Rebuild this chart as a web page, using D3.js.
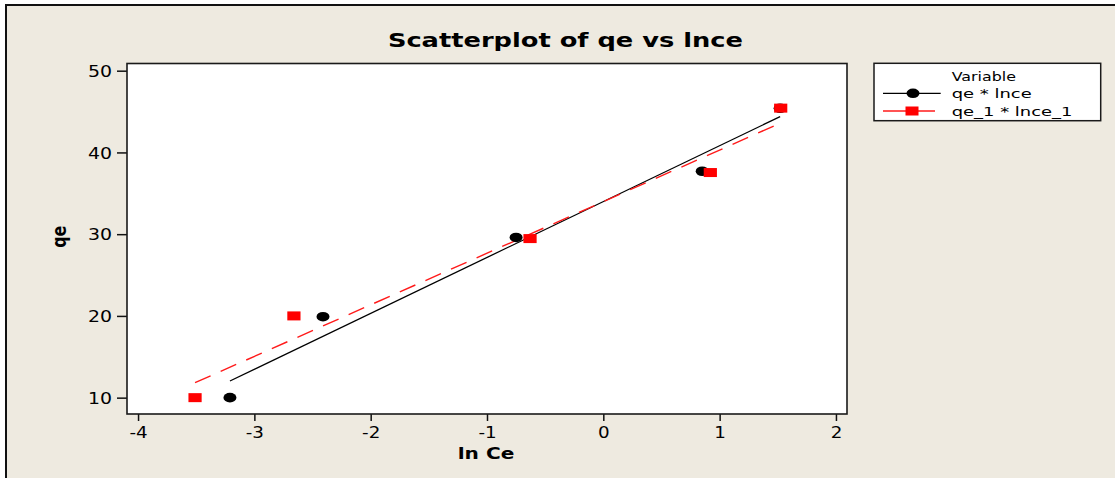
<!DOCTYPE html>
<html>
<head>
<meta charset="utf-8">
<script src="https://cdn.jsdelivr.net/npm/d3@7"></script>
<style>
  html, body { margin: 0; padding: 0; background: #ffffff; }
  svg { display: block; }
  text { font-family: "DejaVu Sans", Verdana, sans-serif; fill: #000; }
</style>
</head>
<body>
<svg id="chart" width="1115" height="478"></svg>
<script>
// Series: qe against ln Ce for two runs
const lnce = [-3.21, -2.41, -0.75, 0.85, 1.52];
const qe = [10.0, 19.9, 29.6, 37.7, 45.4];
const lnce1 = [-3.51, -2.66, -0.63, 0.92, 1.525];
const qe1 = [10.0, 20.0, 29.46, 37.54, 45.42];

const xTicks = [-4, -3, -2, -1, 0, 1, 2];
const yTicks = [10, 20, 30, 40, 50];
const legendLabels = ["qe * lnce", "qe_1 * lnce_1"];

const W = 1115, H = 478;
const SX = 1.22;               // horizontal stretch of the text glyphs
const plot = { left: 127, right: 847, top: 63.5, bottom: 414 };

const svg = d3.select("#chart");

// panel background with frame on top/left
svg.append("rect").attr("x", 6).attr("y", 5).attr("width", W + 20).attr("height", H + 20)
  .attr("fill", "#eeeae0").attr("stroke", "#111").attr("stroke-width", 2);

const x = d3.scaleLinear().domain([-4.095, 2.095]).range([plot.left, plot.right]);
const y = d3.scaleLinear().domain([8.0, 50.88]).range([plot.bottom, plot.top]);

// plotting area
svg.append("rect")
  .attr("x", plot.left).attr("y", plot.top)
  .attr("width", plot.right - plot.left).attr("height", plot.bottom - plot.top)
  .attr("fill", "#ffffff");

// axes
const gx = svg.append("g").attr("transform", `translate(0,${plot.bottom})`)
  .call(d3.axisBottom(x).tickValues(xTicks).tickSize(7).tickSizeOuter(0)
    .tickFormat(d => String(d)));
gx.select(".domain").remove();
gx.selectAll(".tick line").attr("stroke", "#111").attr("stroke-width", 1.5);
gx.selectAll(".tick text")
  .attr("y", 24).attr("dy", 0)
  .attr("transform", `scale(${SX},1)`)
  .style("font-size", "15px");

const gy = svg.append("g").attr("transform", `translate(${plot.left},0)`)
  .call(d3.axisLeft(y).tickValues(yTicks).tickSize(10).tickSizeOuter(0));
gy.select(".domain").remove();
gy.selectAll(".tick line").attr("stroke", "#111").attr("stroke-width", 1.5);
gy.selectAll(".tick text")
  .attr("x", -15 / SX).attr("dy", "0.36em")
  .attr("transform", `scale(${SX},1)`)
  .style("font-size", "15.5px");

// frame around the plotting area
svg.append("rect")
  .attr("x", plot.left).attr("y", plot.top)
  .attr("width", plot.right - plot.left).attr("height", plot.bottom - plot.top)
  .attr("fill", "none").attr("stroke", "#1a1a1a").attr("stroke-width", 1.6);

// least-squares fit line over the range of each series
function fitLine(xs, ys) {
  const mx = d3.mean(xs), my = d3.mean(ys);
  const sxy = d3.sum(xs, (v, i) => (v - mx) * (ys[i] - my));
  const sxx = d3.sum(xs, v => (v - mx) * (v - mx));
  const b = sxy / sxx, a = my - b * mx;
  const x0 = d3.min(xs), x1 = d3.max(xs);
  return [[x0, a + b * x0], [x1, a + b * x1]];
}
const line = d3.line().x(d => x(d[0])).y(d => y(d[1]));

svg.append("path").datum(fitLine(lnce, qe))
  .attr("d", line).attr("fill", "none").attr("stroke", "#000").attr("stroke-width", 1.3);
svg.append("path").datum(fitLine(lnce1, qe1))
  .attr("d", line).attr("fill", "none").attr("stroke", "#ff1a1a").attr("stroke-width", 1.4)
  .attr("stroke-dasharray", "17,11");

// markers
svg.append("g").selectAll("ellipse").data(lnce.map((v, i) => [v, qe[i]])).join("ellipse")
  .attr("cx", d => x(d[0])).attr("cy", d => y(d[1]))
  .attr("rx", 6.5).attr("ry", 4.8).attr("fill", "#000");
svg.append("g").selectAll("rect").data(lnce1.map((v, i) => [v, qe1[i]])).join("rect")
  .attr("x", d => x(d[0]) - 6.6).attr("y", d => y(d[1]) - 4.5)
  .attr("width", 13.2).attr("height", 9).attr("fill", "#ff0000");

// titles
svg.append("text").attr("transform", `translate(565.4,47.3) scale(1.285,1)`)
  .attr("text-anchor", "middle").style("font-size", "20px").style("font-weight", "bold")
  .text("Scatterplot of qe vs lnce");
svg.append("text").attr("transform", `translate(486,459.3) scale(${SX},1)`)
  .attr("text-anchor", "middle").style("font-size", "16.5px").style("font-weight", "bold")
  .text("ln Ce");
svg.append("text").attr("transform", `translate(66,236.7) scale(${SX},1) rotate(-90)`)
  .attr("text-anchor", "middle").style("font-size", "16px").style("font-weight", "bold")
  .text("qe");

// legend
const lg = svg.append("g");
lg.append("rect").attr("x", 874).attr("y", 63.3).attr("width", 226.7).attr("height", 57.4)
  .attr("fill", "#ffffff").attr("stroke", "#1a1a1a").attr("stroke-width", 1.5);
lg.append("text").attr("transform", `translate(951.7,80.7) scale(${SX},1)`)
  .style("font-size", "13px").text("Variable");

const rows = [
  { label: legendLabels[0], color: "#000", y: 93.3, shape: "circle", x2: 940.7 },
  { label: legendLabels[1], color: "#ff1a1a", y: 111, shape: "square", x2: 935 }
];
rows.forEach(r => {
  lg.append("line").attr("x1", 883).attr("x2", r.x2).attr("y1", r.y).attr("y2", r.y)
    .attr("stroke", r.color).attr("stroke-width", 1.3);
  if (r.shape === "circle") {
    lg.append("ellipse").attr("cx", 913).attr("cy", r.y).attr("rx", 6.5).attr("ry", 4.8).attr("fill", "#000");
  } else {
    lg.append("rect").attr("x", 905.5).attr("y", r.y - 4.5).attr("width", 13).attr("height", 9).attr("fill", "#ff0000");
  }
  lg.append("text").attr("transform", `translate(951.7,${r.y}) scale(1.38,1)`)
    .attr("dy", "0.36em").style("font-size", "13px").text(r.label);
});
</script>
</body>
</html>
